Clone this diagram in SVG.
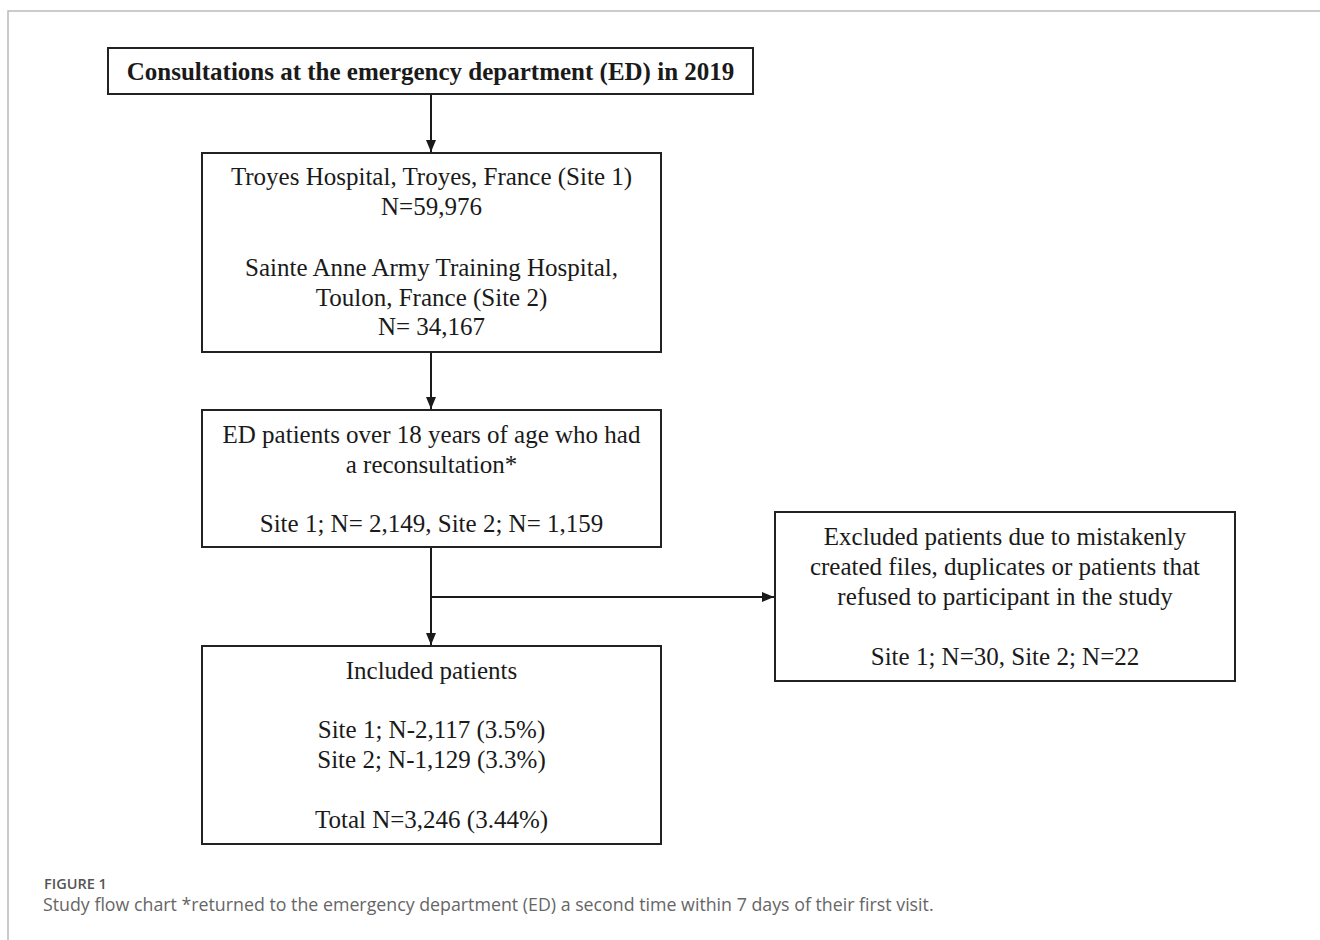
<svg xmlns="http://www.w3.org/2000/svg" width="1320" height="940" viewBox="0 0 1320 940">
<defs>
<style>
.box{fill:#ffffff;stroke:#222222;stroke-width:2}
.t{font-family:"Liberation Serif","Times New Roman",serif;font-size:25px;fill:#1a1a1a;text-anchor:middle}
.b{font-weight:bold}
.conn{stroke:#1a1a1a;stroke-width:2;fill:none}
.cap1{font-family:"Open Sans","Liberation Sans",sans-serif;font-size:14.5px;font-weight:600;fill:#555555}
.cap2{font-family:"Open Sans","Liberation Sans",sans-serif;font-size:17.8px;font-weight:400;fill:#666666}
</style>
<marker id="arr" viewBox="0 0 12 10" refX="12" refY="5" markerWidth="12" markerHeight="10" markerUnits="userSpaceOnUse" orient="auto">
<path d="M0,0 L12,5 L0,10 Z" fill="#1a1a1a"/>
</marker>
</defs>
<rect width="1320" height="940" fill="#ffffff"/>
<path d="M8,940 L8,11 L1320,11" fill="none" stroke="#bbbbbb" stroke-width="1.5"/>

<g id="connectors">
<line class="conn" x1="431" y1="94" x2="431" y2="152" marker-end="url(#arr)"/>
<line class="conn" x1="431" y1="352" x2="431" y2="409" marker-end="url(#arr)"/>
<line class="conn" x1="431" y1="547" x2="431" y2="645" marker-end="url(#arr)"/>
<line class="conn" x1="431" y1="597" x2="774" y2="597" marker-end="url(#arr)"/>
</g>

<g id="node-consultations">
<rect class="box" x="108" y="48" width="645" height="46"/>
<text class="t b" x="430.5" y="80">Consultations at the emergency department (ED) in 2019</text>
</g>

<g id="node-sites">
<rect class="box" x="202" y="153" width="459" height="199"/>
<text class="t" x="431.5" y="185">Troyes Hospital, Troyes, France (Site 1)</text>
<text class="t" x="431.5" y="215">N=59,976</text>
<text class="t" x="431.5" y="276">Sainte Anne Army Training  Hospital,</text>
<text class="t" x="431.5" y="306">Toulon, France (Site 2)</text>
<text class="t" x="431.5" y="335">N= 34,167</text>
</g>

<g id="node-reconsultation">
<rect class="box" x="202" y="410" width="459" height="137"/>
<text class="t" x="431.5" y="443">ED patients over 18 years of age who had</text>
<text class="t" x="431.5" y="473">a reconsultation*</text>
<text class="t" x="431.5" y="532">Site 1; N= 2,149,  Site 2; N= 1,159</text>
</g>

<g id="node-excluded">
<rect class="box" x="775" y="512" width="460" height="169"/>
<text class="t" x="1005" y="545">Excluded patients due to mistakenly</text>
<text class="t" x="1005" y="575">created files, duplicates or patients that</text>
<text class="t" x="1005" y="605">refused to participant in the study</text>
<text class="t" x="1005" y="665">Site 1; N=30, Site 2; N=22</text>
</g>

<g id="node-included">
<rect class="box" x="202" y="646" width="459" height="198"/>
<text class="t" x="431.5" y="679">Included patients</text>
<text class="t" x="431.5" y="738">Site 1; N-2,117  (3.5%)</text>
<text class="t" x="431.5" y="768">Site 2; N-1,129  (3.3%)</text>
<text class="t" x="431.5" y="828">Total N=3,246 (3.44%)</text>
</g>

<g id="caption">
<text class="cap1" x="44" y="889">FIGURE 1</text>
<text class="cap2" x="43" y="911">Study flow chart *returned to the emergency department (ED) a second time within 7 days of their first visit.</text>
</g>
</svg>
